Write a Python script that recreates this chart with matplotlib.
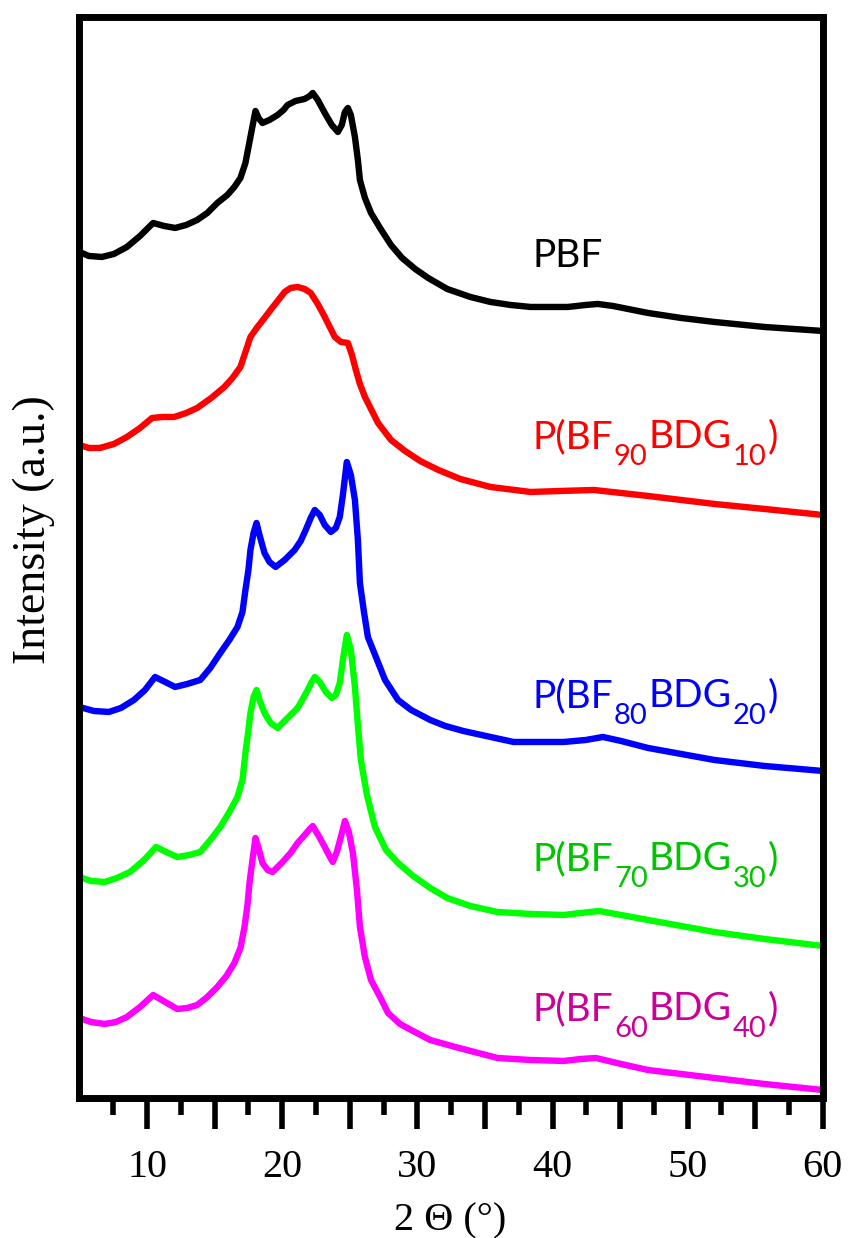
import matplotlib
matplotlib.use("Agg")
import matplotlib.pyplot as plt
from matplotlib.ticker import FixedLocator, FuncFormatter
from matplotlib.transforms import offset_copy

# Diffraction angle (2θ, degrees) and stacked intensity (a.u.) for each sample
two_theta_pbf = [5.0, 5.69, 6.66, 7.55, 8.51, 9.48, 10.45, 11.26, 12.08, 12.90, 13.71, 14.46,
                 15.2, 15.94, 16.46, 16.91, 17.28, 17.65, 18.02, 18.25, 18.54, 19.06, 19.66,
                 20.10, 20.40, 20.99, 21.66, 22.04, 22.26, 22.63, 23.15, 23.67, 24.12, 24.41,
                 24.64, 24.86, 25.08, 25.38, 25.60, 25.75, 26.12, 26.57, 27.24, 28.05, 28.87,
                 29.84, 30.80, 32.21, 33.92, 35.41, 36.89, 38.38, 41.13, 42.47, 43.36, 44.47,
                 47.07, 49.52, 51.98, 55.69, 60.0]
intensity_pbf = [848, 844, 843, 846, 853, 864, 877, 874, 872, 875, 880, 887,
                 897, 905, 913, 922, 937, 963, 989, 982, 977, 980, 985,
                 990, 995, 999, 1001, 1004, 1007, 1000, 987, 975, 968, 975,
                 988, 992, 985, 963, 940, 920, 902, 887, 872, 855, 842,
                 831, 822, 811, 803, 798, 795, 793, 793, 795, 796, 794,
                 787, 782, 778, 773, 769]

two_theta_90 = [5.0, 5.69, 6.51, 7.55, 8.51, 9.48, 10.37, 11.19, 12.01, 12.90, 13.71, 14.75,
                15.72, 16.32, 16.91, 17.28, 17.65, 18.17, 18.69, 19.14, 19.66, 20.18, 20.62,
                21.14, 21.66, 22.11, 22.63, 23.15, 23.52, 23.89, 24.34, 24.86, 25.16, 25.45,
                25.75, 26.12, 27.09, 28.05, 29.09, 30.21, 31.55, 33.18, 35.41, 38.38, 40.61,
                43.06, 45.07, 47.07, 51.98, 55.69, 60.0]
intensity_90 = [655, 652, 652, 656, 663, 672, 682, 683, 683, 687, 692, 702,
                713, 722, 733, 748, 763, 773, 782, 790, 799, 808, 812,
                813, 811, 807, 796, 783, 773, 763, 758, 757, 745, 730,
                716, 703, 677, 660, 649, 639, 630, 621, 613, 608, 609,
                610, 607, 604, 596, 591, 585]

two_theta_80 = [5.0, 6.06, 7.18, 8.07, 9.03, 9.85, 10.59, 11.34, 12.08, 12.97, 13.94, 14.68,
                15.42, 16.09, 16.69, 17.06, 17.28, 17.50, 17.65, 17.88, 18.10, 18.32, 18.69,
                19.06, 19.51, 20.18, 20.92, 21.37, 21.74, 22.11, 22.41, 22.78, 23.15, 23.60,
                23.97, 24.26, 24.49, 24.78, 25.08, 25.38, 25.60, 25.75, 26.05, 26.34, 27.61,
                28.57, 29.54, 30.95, 32.07, 33.40, 35.41, 37.12, 40.83, 42.47, 43.73, 45.07,
                47.07, 51.98, 55.69, 60.0]
intensity_80 = [393, 389, 388, 392, 400, 410, 423, 418, 413, 416, 420, 432,
                447, 460, 473, 488, 510, 530, 550, 567, 577, 565, 547,
                538, 533, 540, 550, 559, 570, 582, 590, 585, 575, 568,
                572, 583, 605, 638, 625, 600, 560, 517, 488, 463, 420,
                400, 390, 380, 374, 369, 363, 358, 358, 360, 363, 359,
                352, 340, 334, 329]

two_theta_70 = [5.0, 5.84, 6.88, 7.77, 8.74, 9.78, 10.67, 11.41, 12.23, 13.12, 13.94, 14.68,
                15.42, 16.09, 16.69, 17.06, 17.28, 17.50, 17.65, 17.88, 18.10, 18.32, 18.69,
                19.14, 19.66, 20.40, 21.14, 21.52, 21.89, 22.18, 22.41, 22.78, 23.23, 23.67,
                23.97, 24.26, 24.49, 24.78, 25.08, 25.38, 25.60, 25.82, 26.27, 26.86, 27.68,
                28.57, 29.69, 30.95, 32.21, 33.92, 35.93, 38.38, 40.83, 42.10, 43.43, 45.07,
                47.07, 51.98, 55.69, 60.0]
intensity_70 = [223, 219, 218, 222, 228, 240, 253, 248, 243, 245, 248, 260,
                273, 288, 303, 320, 347, 370, 387, 403, 410, 400, 387,
                377, 372, 382, 392, 401, 410, 418, 423, 418, 408, 402,
                405, 417, 440, 465, 450, 413, 375, 340, 305, 273, 250,
                237, 224, 212, 202, 194, 188, 186, 185, 187, 189, 185,
                180, 168, 161, 154]

two_theta_60 = [5.0, 5.84, 6.88, 7.70, 8.51, 9.48, 10.45, 11.34, 12.23, 12.97, 13.71, 14.46,
                15.20, 15.87, 16.46, 16.91, 17.21, 17.43, 17.58, 17.80, 18.02, 18.25, 18.54,
                18.92, 19.29, 19.96, 20.62, 21.14, 21.66, 22.04, 22.26, 22.70, 23.15, 23.45,
                23.74, 24.04, 24.34, 24.64, 24.93, 25.23, 25.53, 25.75, 26.12, 26.57, 27.24,
                27.83, 28.72, 29.54, 30.95, 32.81, 35.93, 38.38, 40.83, 42.10, 43.21, 45.07,
                47.07, 51.98, 55.69, 60.0]
intensity_60 = [82, 78, 76, 78, 83, 93, 105, 98, 91, 92, 95, 103,
                113, 124, 137, 152, 173, 195, 217, 240, 262, 252, 237,
                230, 228, 237, 247, 257, 265, 271, 274, 264, 253, 245,
                238, 248, 263, 279, 268, 247, 210, 173, 143, 120, 103,
                87, 76, 70, 60, 53, 42, 40, 39, 41, 42, 36,
                30, 22, 16, 10]

# Sample names: (text, is_subscript) pieces
sample_labels = [
    [("PBF", False)],
    [("P(BF", False), ("90", True), ("BDG", False), ("10", True), (")", False)],
    [("P(BF", False), ("80", True), ("BDG", False), ("20", True), (")", False)],
    [("P(BF", False), ("70", True), ("BDG", False), ("30", True), (")", False)],
    [("P(BF", False), ("60", True), ("BDG", False), ("40", True), (")", False)],
]
label_baselines = [833, 652, 393, 230, 80]
label_x = 38.5

xtick_major = [10, 15, 20, 25, 30, 35, 40, 45, 50, 55, 60]
xtick_minor = [7.5, 12.5, 17.5, 22.5, 27.5, 32.5, 37.5, 42.5, 47.5, 52.5, 57.5]

series = [(two_theta_pbf, intensity_pbf), (two_theta_90, intensity_90),
          (two_theta_80, intensity_80), (two_theta_70, intensity_70),
          (two_theta_60, intensity_60)]
line_colors = ["#000000", "#FF0000", "#0000FF", "#00FF00", "#FF00FF"]
text_colors = ["#000000", "#FF0000", "#0000FF", "#00C400", "#CC0099"]

fig = plt.figure(figsize=(8.5, 12.38), dpi=100)
ax = fig.add_axes([0.0935, 0.1131, 0.8745, 0.8732])

for (x, y), c in zip(series, line_colors):
    ax.plot(x, y, color=c, lw=4.6, solid_joinstyle="round", solid_capstyle="round", zorder=2)

ax.set_xlim(5, 60)
ax.set_ylim(2, 1083)

ax.xaxis.set_major_locator(FixedLocator(xtick_major))
ax.xaxis.set_minor_locator(FixedLocator(xtick_minor))
ax.xaxis.set_major_formatter(FuncFormatter(lambda v, p: f"{int(v)}" if v % 10 == 0 else ""))
ax.tick_params(axis="x", which="major", direction="out", length=22, width=4, pad=15,
               labelsize=29)
ax.tick_params(axis="x", which="minor", direction="out", length=12, width=4)
for lbl in ax.get_xticklabels():
    lbl.set_family("Liberation Serif")
ax.set_yticks([])

for sp in ax.spines.values():
    sp.set_linewidth(5)
    sp.set_zorder(4)

# Sample names with lowered subscripts, laid out piece by piece
renderer = fig.canvas.get_renderer()
main_size, sub_size, sub_drop = 28, 21, 17
for pieces, yb, tc in zip(sample_labels, label_baselines, text_colors):
    dx = 0.0
    for txt, is_sub in pieces:
        tr = offset_copy(ax.transData, fig=fig, x=dx, y=-sub_drop if is_sub else 0, units="dots")
        t = ax.text(label_x, yb, txt, color=tc, fontsize=sub_size if is_sub else main_size,
                    family="Lato", ha="left", va="baseline", transform=tr, zorder=3)
        dx += t.get_window_extent(renderer).width + 1

fig.text(34 / 850, 1 - 530 / 1238, "Intensity (a.u.)", rotation=90, ha="center", va="center",
         fontsize=33, family="Liberation Serif")
fig.text(450 / 850, 8 / 1238, "2 \u0398 (\u00b0)", ha="center", va="baseline",
         fontsize=29, family="Liberation Serif")

fig.savefig("out.png", dpi=100)
